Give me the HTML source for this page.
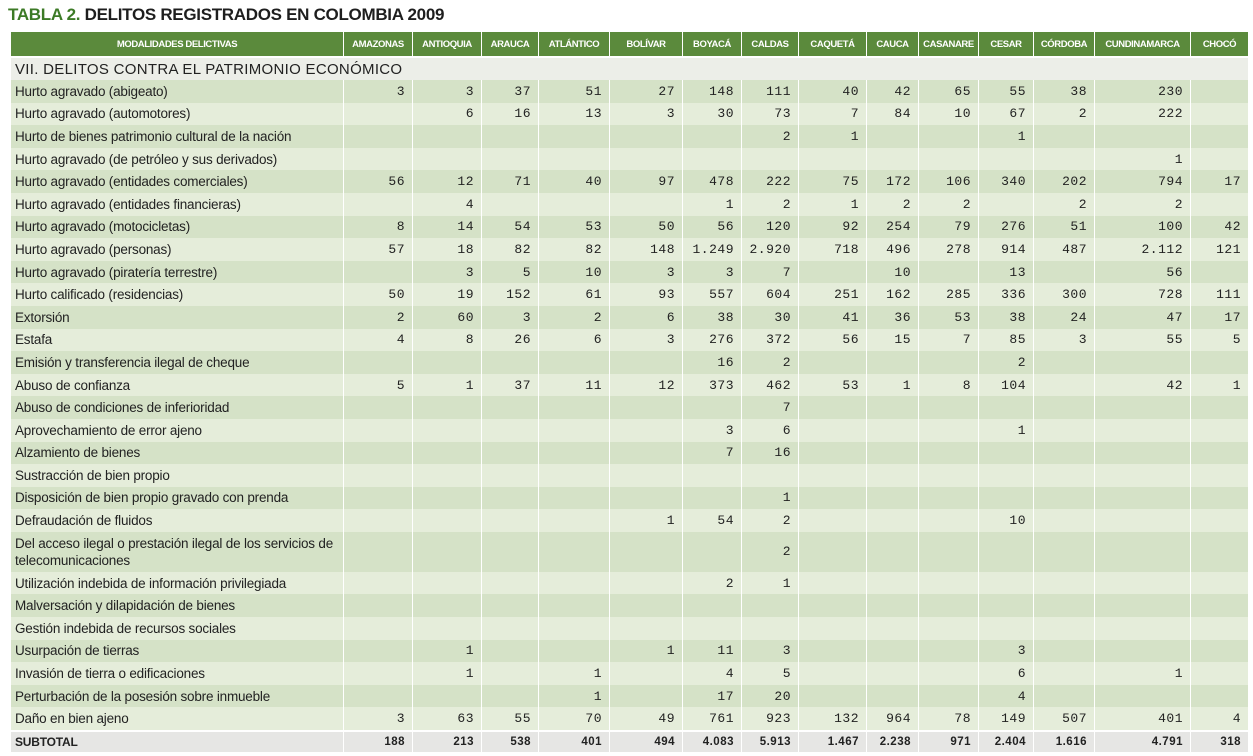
<!DOCTYPE html>
<html><head><meta charset="utf-8"><style>
body{margin:0;background:#fff;width:1253px;height:756px;overflow:hidden;font-family:"Liberation Sans",sans-serif}
#title{position:absolute;left:8px;top:5px;font-size:17px;font-weight:bold;color:#3c7a26;letter-spacing:-0.3px}
#title span{color:#1e1e1e}
table{position:absolute;left:10px;top:32px;border-collapse:collapse;table-layout:fixed;width:1238px}
td,th{padding:0;overflow:hidden;white-space:nowrap;border-left:1px solid #fff;border-right:1px solid #fff}
th{background:#5b8a3c;color:#fff;font-size:9.5px;font-weight:bold;height:24px;letter-spacing:-0.4px;border-bottom:2px solid #fff}
td{font-size:13.5px;color:#222;height:22.6px;letter-spacing:-0.2px}
td.n{text-align:right;padding-right:7px;font-family:"Liberation Mono",monospace;font-size:13px;letter-spacing:0.5px}
td.l{padding-left:4px}
tr.d td{background:#d5e2c7}
tr.w td{background:#e5edda}
tr.sec td{background:#eceee8;font-size:15px;font-weight:bold;color:#222;height:22px;font-weight:normal;letter-spacing:0.3px}
tr.sub td{background:#e6e6e4;font-weight:bold;font-size:12px;height:20px;border-top:2px solid #fff}
tr.two td{height:40px}
tr.two td.l{white-space:normal;line-height:17px}
</style></head><body>
<div id="title">TABLA 2. <span>DELITOS REGISTRADOS EN COLOMBIA 2009</span></div>
<table id="t">
<colgroup id="cg"></colgroup>
<thead><tr id="hr"></tr></thead>
<tbody id="tb"></tbody>
</table>
<script>
const departments=["AMAZONAS","ANTIOQUIA","ARAUCA","ATLÁNTICO","BOLÍVAR","BOYACÁ","CALDAS","CAQUETÁ","CAUCA","CASANARE","CESAR","CÓRDOBA","CUNDINAMARCA","CHOCÓ"];
const colWidths=[333,69,69,57,71,73,59,57,68,52,60,55,61,96,58];
const rowLabels=["Hurto agravado (abigeato)","Hurto agravado (automotores)","Hurto de bienes patrimonio cultural de la nación","Hurto agravado (de petróleo y sus derivados)","Hurto agravado (entidades comerciales)","Hurto agravado (entidades financieras)","Hurto agravado (motocicletas)","Hurto agravado (personas)","Hurto agravado (piratería terrestre)","Hurto calificado (residencias)","Extorsión","Estafa","Emisión y transferencia ilegal de cheque","Abuso de confianza","Abuso de condiciones de inferioridad","Aprovechamiento de error ajeno","Alzamiento de bienes","Sustracción de bien propio","Disposición de bien propio gravado con prenda","Defraudación de fluidos","Del acceso ilegal o prestación ilegal de los servicios de telecomunicaciones","Utilización indebida de información privilegiada","Malversación y dilapidación de bienes","Gestión indebida de recursos sociales","Usurpación de tierras","Invasión de tierra o edificaciones","Perturbación de la posesión sobre inmueble","Daño en bien ajeno"];
const rowValues=[
["3","3","37","51","27","148","111","40","42","65","55","38","230",""],
["","6","16","13","3","30","73","7","84","10","67","2","222",""],
["","","","","","","2","1","","","1","","",""],
["","","","","","","","","","","","","1",""],
["56","12","71","40","97","478","222","75","172","106","340","202","794","17"],
["","4","","","","1","2","1","2","2","","2","2",""],
["8","14","54","53","50","56","120","92","254","79","276","51","100","42"],
["57","18","82","82","148","1.249","2.920","718","496","278","914","487","2.112","121"],
["","3","5","10","3","3","7","","10","","13","","56",""],
["50","19","152","61","93","557","604","251","162","285","336","300","728","111"],
["2","60","3","2","6","38","30","41","36","53","38","24","47","17"],
["4","8","26","6","3","276","372","56","15","7","85","3","55","5"],
["","","","","","16","2","","","","2","","",""],
["5","1","37","11","12","373","462","53","1","8","104","","42","1"],
["","","","","","","7","","","","","","",""],
["","","","","","3","6","","","","1","","",""],
["","","","","","7","16","","","","","","",""],
["","","","","","","","","","","","","",""],
["","","","","","","1","","","","","","",""],
["","","","","1","54","2","","","","10","","",""],
["","","","","","","2","","","","","","",""],
["","","","","","2","1","","","","","","",""],
["","","","","","","","","","","","","",""],
["","","","","","","","","","","","","",""],
["","1","","","1","11","3","","","","3","","",""],
["","1","","1","","4","5","","","","6","","1",""],
["","","","1","","17","20","","","","4","","",""],
["3","63","55","70","49","761","923","132","964","78","149","507","401","4"]];
const subtotals=["188","213","538","401","494","4.083","5.913","1.467","2.238","971","2.404","1.616","4.791","318"];

const cg=document.getElementById('cg');
colWidths.forEach(w=>{const c=document.createElement('col');c.style.width=w+'px';cg.appendChild(c);});
const hr=document.getElementById('hr');
const h0=document.createElement('th');


h0.textContent='MODALIDADES DELICTIVAS';hr.appendChild(h0);
departments.forEach(d=>{const th=document.createElement('th');


th.textContent=d;hr.appendChild(th);});
const tb=document.getElementById('tb');
const sec=document.createElement('tr');sec.className='sec';


sec.innerHTML='<td class="l" colspan="15">VII. DELITOS CONTRA EL PATRIMONIO ECONÓMICO</td>';
tb.appendChild(sec);
rowLabels.forEach((lab,i)=>{const tr=document.createElement('tr');
tr.className=(i%2===0?'d':'w')+(i===20?' two':'');


const l=document.createElement('td');l.className='l';l.textContent=lab;tr.appendChild(l);
rowValues[i].forEach(v=>{const td=document.createElement('td');td.className='n';td.textContent=v;tr.appendChild(td);});
tb.appendChild(tr);});
const st=document.createElement('tr');st.className='sub';


const sl=document.createElement('td');sl.className='l';sl.textContent='SUBTOTAL';st.appendChild(sl);
subtotals.forEach(v=>{const td=document.createElement('td');td.className='n';td.style.fontFamily='"Liberation Sans",sans-serif';td.style.fontSize='11.5px';td.textContent=v;st.appendChild(td);});
tb.appendChild(st);
</script>
</body></html>
